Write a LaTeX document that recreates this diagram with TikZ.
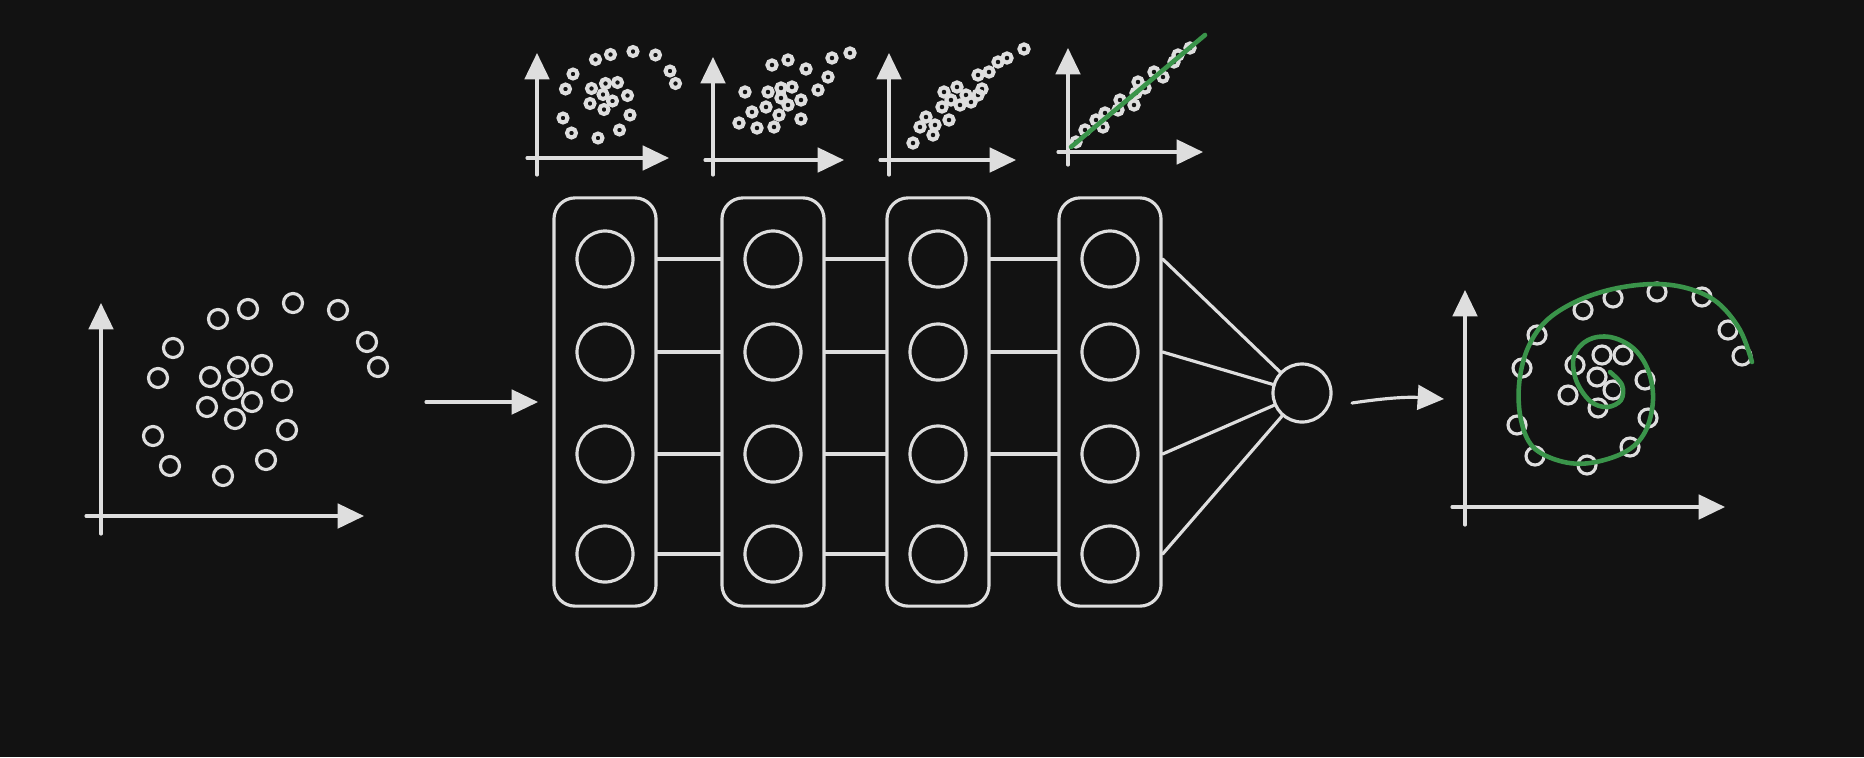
\documentclass[tikz,border=0pt]{standalone}
\usepackage{xcolor}
\usetikzlibrary{arrows.meta,positioning}
\definecolor{board}{RGB}{18,18,18}
\definecolor{chalk}{RGB}{222,222,222}
\definecolor{fitgreen}{RGB}{58,148,74}
\tikzset{
  sketch/.style={draw=chalk, line width=0.9pt, line cap=round},
  smalldot/.style={draw=chalk, line width=1.15pt},
  axis/.style={sketch, -{Triangle[length=7.5pt,width=7pt]}},
  neuron/.style={circle, draw=chalk, line width=0.9pt, minimum size=0.56cm, inner sep=0pt},
  layerbox/.style={draw=chalk, line width=0.9pt, rounded corners=6pt, minimum width=1.02cm, minimum height=4.08cm, inner sep=0pt},
  fitline/.style={draw=fitgreen, line width=1.3pt, line cap=round}
}
\newcommand{\spiraldata}{117/-197,147/-207,192/-213,237/-206,266/-174,277/-149,72/-168,57/-138,109/-139,137/-149,161/-151,132/-127,181/-125,151/-114,106/-109,134/-97,186/-86,52/-80,69/-50,122/-40,165/-56}
\begin{document}
\begin{tikzpicture}[x=0.01cm,y=-0.01cm]
\fill[board] (0,0) rectangle (1864,757);

% input data
\begin{scope}[shift={(101,516)}]
\draw[axis] (0,18) -- (0,-213);
\draw[axis] (-15,0) -- (263,0);
\foreach \x/\y in \spiraldata \draw[sketch] (\x,\y) circle (0.095cm);
\end{scope}
\coordinate (a1s) at (426,402);
\coordinate (a1e) at (538,402);
\draw[axis] (a1s) -- (a1e);

% hidden layers
\foreach \k/\x in {1/605,2/773,3/938,4/1110} {
  \node[layerbox] (L\k) at (\x,402) {};
  \foreach \j/\y in {1/259,2/352,3/454,4/554}
    \node[neuron] (n\k\j) at (\x,\y) {};
}
\foreach \k/\m in {1/2,2/3,3/4}
  \foreach \j in {1,...,4}
    \draw[sketch] (L\k.east |- n\k\j) -- (L\m.west |- n\k\j);

% output neuron
\node[neuron, minimum size=0.58cm] (out) at (1302,393) {};
\foreach \j in {1,...,4}
  \draw[sketch] (L4.east |- n4\j) -- (out);
\coordinate (a2s) at (1352,403);
\coordinate (a2e) at (1444,399);
\draw[axis] (a2s) to[bend left=6] (a2e);

% what each layer sees
\begin{scope}[shift={(537,158)}]
\draw[axis] (0,17) -- (0,-105);
\draw[axis] (-10,0) -- (132,0);
\begin{scope}[scale=0.5]
\foreach \x/\y in \spiraldata \draw[smalldot] (\x,\y) circle (0.09cm);
\end{scope}
\end{scope}

\draw[axis] (713,175) -- (713,57);
\draw[axis] (705,160) -- (844,160);
\foreach \x/\y in {772/65,788/60,806/69,832/58,850/53,828/77,818/90,745/92,768/92,781/88,792/87,801/100,781/98,788/105,766/107,752/112,779/115,739/123,757/128,774/127,801/119}
  \draw[smalldot] (\x,\y) circle (0.046cm);

\draw[axis] (889,175) -- (889,53);
\draw[axis] (880,160) -- (1016,160);
\foreach \x/\y in {1024/49,1007/58,998/62,989/72,978/75,982/89,957/87,944/92,966/95,971/102,960/105,951/100,942/107,926/117,949/120,920/127,935/125,933/135,913/143,978/95}
  \draw[smalldot] (\x,\y) circle (0.046cm);

\draw[axis] (1068,165) -- (1068,48);
\draw[axis] (1058,152) -- (1203,152);
\foreach \x/\y in {1076/142,1085/130,1096/120,1103/127,1118/110,1120/100,1136/93,1138/82,1145/88,1154/72,1163/77,1174/62,1178/55,1190/48,1105/113,1134/105}
  \draw[smalldot] (\x,\y) circle (0.046cm);
\draw[fitline] (1071,147) -- (1205,35);

% output data with fitted spiral
\draw[axis] (1465,525) -- (1465,290);
\draw[axis] (1452,507) -- (1725,507);
\foreach \x/\y in {1537/335,1522/368,1517/425,1535/456,1587/465,1630/447,1648/418,1645/380,1623/355,1602/355,1575/365,1597/377,1613/390,1568/395,1598/408,1583/310,1613/298,1657/292,1702/297,1728/330,1742/356}
  \draw[sketch] (\x,\y) circle (0.09cm);
\draw[fitline] plot[smooth, tension=0.6] coordinates {(1752,362) (1740,330) (1718,303) (1690,289) (1655,284) (1613,289) (1575,302) (1545,322) (1527,350) (1519,385) (1521,420) (1533,447) (1560,461) (1590,463) (1625,452) (1645,432) (1653,400) (1648,370) (1633,348) (1610,337) (1588,340) (1574,356) (1576,380) (1590,401) (1607,407) (1621,400) (1622,385) (1610,372)};
\end{tikzpicture}
\end{document}
